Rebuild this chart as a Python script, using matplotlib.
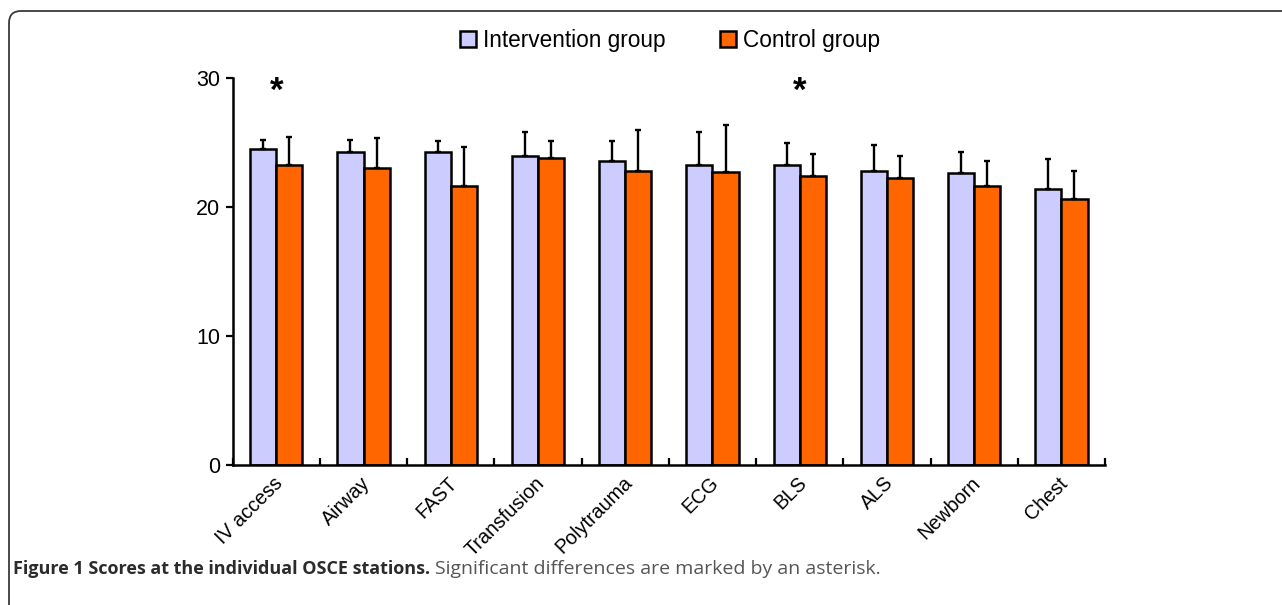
import numpy as np
import matplotlib
matplotlib.use("Agg")
import matplotlib.pyplot as plt
from matplotlib.path import Path
from matplotlib.patches import PathPatch
from matplotlib.transforms import IdentityTransform, ScaledTranslation

# OSCE station scores (mean and SD) per group
stations = ["IV access", "Airway", "FAST", "Transfusion", "Polytrauma",
            "ECG", "BLS", "ALS", "Newborn", "Chest"]
intervention_mean = [24.5, 24.2, 24.2, 23.9, 23.5, 23.2, 23.2, 22.8, 22.6, 21.4]
intervention_sd = [0.7, 1.0, 0.9, 1.9, 1.6, 2.6, 1.7, 2.0, 1.6, 2.3]
control_mean = [23.2, 23.0, 21.6, 23.8, 22.8, 22.7, 22.4, 22.2, 21.6, 20.6]
control_sd = [2.2, 2.3, 3.0, 1.3, 3.1, 3.6, 1.7, 1.7, 1.9, 2.2]
significant = ["IV access", "BLS"]
y_ticks = [0, 10, 20, 30]

plt.rcParams["font.family"] = ["Liberation Sans", "DejaVu Sans"]

W, H = 1282, 605
fig = plt.figure(figsize=(W / 100, H / 100), dpi=100)
ax = fig.add_axes([232.7 / W, (H - 465) / H, (1105 - 232.7) / W, (465 - 77.5) / H])

x = np.arange(len(stations))
bw = 0.3
err_kw = dict(ecolor="black", elinewidth=1.7, capsize=2.0, capthick=1.7)
ax.bar(x - bw / 2, intervention_mean, bw, color="#CCCCFF", edgecolor="black",
       linewidth=1.8, yerr=[np.zeros(len(x)), intervention_sd], error_kw=err_kw,
       label="Intervention group", zorder=2)
ax.bar(x + bw / 2, control_mean, bw, color="#FF6600", edgecolor="black",
       linewidth=1.8, yerr=[np.zeros(len(x)), control_sd], error_kw=err_kw,
       label="Control group", zorder=2)

for name in significant:
    i = stations.index(name)
    ax.text(i, 28.9, "*", ha="center", va="center", fontsize=25, fontweight="bold")

ax.set_xlim(-0.5, len(stations) - 0.5)
ax.set_ylim(0, 30)
ax.set_yticks(y_ticks)
ax.tick_params(axis="y", direction="out", length=5, width=1.6, labelsize=15.5, pad=4)
ax.set_xticks(x)
ax.set_xticklabels(stations, rotation=45, ha="right", rotation_mode="anchor", fontsize=14.2)
ax.tick_params(axis="x", which="major", length=0, pad=6)
shift = ScaledTranslation(-3 / 100, 0, fig.dpi_scale_trans)
for lbl in ax.get_xticklabels():
    lbl.set_transform(lbl.get_transform() + shift)
ax.set_xticks(np.arange(len(stations) + 1) - 0.5, minor=True)
ax.tick_params(axis="x", which="minor", direction="in", length=5, width=1.6)
for side in ["top", "right"]:
    ax.spines[side].set_visible(False)
for side in ["left", "bottom"]:
    ax.spines[side].set_linewidth(1.8)

fig.legend(loc="center", bbox_to_anchor=(670 / W, (H - 40) / H), ncol=2,
           frameon=False, fontsize=16.3, handlelength=0.7, handleheight=0.7,
           handletextpad=0.3, columnspacing=2.4)

# caption frame: left and top border joined by a rounded corner
x0, ytop, r = 9, H - 11, 12
verts = [(x0, 0), (x0, ytop - r), (x0, ytop), (x0 + r, ytop), (W, ytop)]
codes = [Path.MOVETO, Path.LINETO, Path.CURVE3, Path.CURVE3, Path.LINETO]
fig.patches.append(PathPatch(Path(verts, codes), transform=IdentityTransform(),
                             fill=False, edgecolor="#3a3a3a", linewidth=1.3))

t1 = fig.text(13 / W, (H - 569) / H, "Figure 1 Scores at the individual OSCE stations.",
              fontsize=13.0, fontweight="bold", color="#2b2b2b", va="center",
              family=["Open Sans", "DejaVu Sans"])
fig.canvas.draw()
bb = t1.get_window_extent()
fig.text((bb.x1 + 5) / W, (H - 569) / H,
         "Significant differences are marked by an asterisk.",
         fontsize=14.0, color="#555555", va="center", family=["Open Sans", "DejaVu Sans"])

fig.savefig("out.png", dpi=100)
